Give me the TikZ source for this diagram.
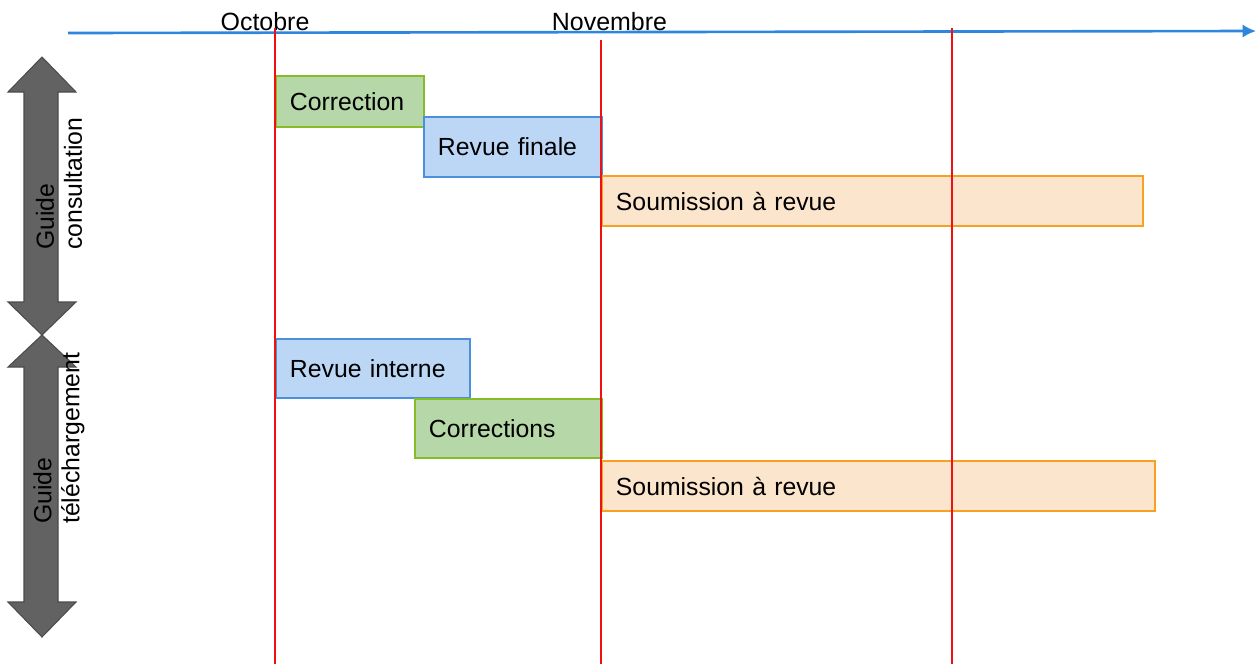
\documentclass[tikz,border=0pt]{standalone}
\usepackage{fontspec}
\setmainfont{Liberation Sans}
\usetikzlibrary{arrows.meta}
\definecolor{axisblue}{HTML}{2E86DE}
\definecolor{redline}{HTML}{F01010}
\definecolor{gfill}{HTML}{B6D7A8}
\definecolor{gdraw}{HTML}{86BC25}
\definecolor{bfill}{HTML}{BCD7F5}
\definecolor{bdraw}{HTML}{4A90DA}
\definecolor{ofill}{HTML}{FCE5CD}
\definecolor{odraw}{HTML}{F8A020}
\definecolor{arrgray}{HTML}{626262}
\definecolor{arrdraw}{HTML}{4C4C4C}
\tikzset{
  taskbar/.style={anchor=west, line width=1.1pt, inner xsep=0.28cm, inner ysep=0pt, align=left,
    font=\fontsize{14.1}{17}\selectfont},
  greenbar/.style={taskbar, draw=gdraw, fill=gfill},
  bluebar/.style={taskbar, draw=bdraw, fill=bfill},
  orangebar/.style={taskbar, draw=odraw, fill=ofill},
  redrule/.style={draw=redline, line width=1.2pt},
  grayarrow/.style={fill=arrgray, draw=arrdraw, line width=0.6pt},
  sidelabel/.style={rotate=90, anchor=west, align=left, inner sep=0pt,
    font=\fontsize{14.1}{15.9}\selectfont},
  monthlabel/.style={anchor=base, inner sep=0pt, font=\fontsize{14.2}{17}\selectfont}
}
\begin{document}
\begin{tikzpicture}[x=0.02cm, y=-0.02cm]
\useasboundingbox (0,0) rectangle (1256,664);
% axis
\coordinate (axL) at (68,33);
\coordinate (axR) at (1256,31);
\draw[axisblue, line width=1.5pt, -{Latex[length=0.27cm, width=0.27cm]}] (axL) -- (axR);
\node[monthlabel] (oct) at (265,30) {Octobre};
\node[monthlabel] (nov) at (609.5,30) {Novembre};
% gray double arrows
\draw[grayarrow] (42,57) -- (76,92) -- (58,92) -- (58,302) -- (76,302) -- (42,335) -- (8,302) -- (24,302) -- (24,92) -- (8,92) -- cycle;
\draw[grayarrow] (42,335) -- (76,367) -- (58,367) -- (58,602) -- (76,602) -- (42,637) -- (8,602) -- (24,602) -- (24,367) -- (8,367) -- cycle;
\node[sidelabel] (g1) at (59,250) {Guide\\consultation};
\node[sidelabel] (g2) at (59,524) {Guide\\téléchargement};
% task bars
\node[greenbar, text width=2.40cm, minimum height=1.02cm] (c1) at (275,101.5) {Correction};
\node[bluebar, text width=3.00cm, minimum height=1.20cm] (rf) at (423,147) {Revue finale};
\node[orangebar, text width=10.26cm, minimum height=1.00cm] (s1) at (601,201) {Soumission à revue};
\node[bluebar, text width=3.32cm, minimum height=1.18cm] (ri) at (275,368.5) {Revue interne};
\node[greenbar, text width=3.18cm, minimum height=1.18cm] (c2) at (414,428.5) {Corrections};
\node[orangebar, text width=10.50cm, minimum height=1.00cm] (s2) at (601,486) {Soumission à revue};
% red month lines
\coordinate (r1t) at (275,28); \coordinate (r1b) at (275,664);
\coordinate (r2t) at (601,40); \coordinate (r2b) at (601,664);
\coordinate (r3t) at (952,28); \coordinate (r3b) at (952,664);
\draw[redrule] (r1t) -- (r1b);
\draw[redrule] (r2t) -- (r2b);
\draw[redrule] (r3t) -- (r3b);
\end{tikzpicture}
\end{document}
